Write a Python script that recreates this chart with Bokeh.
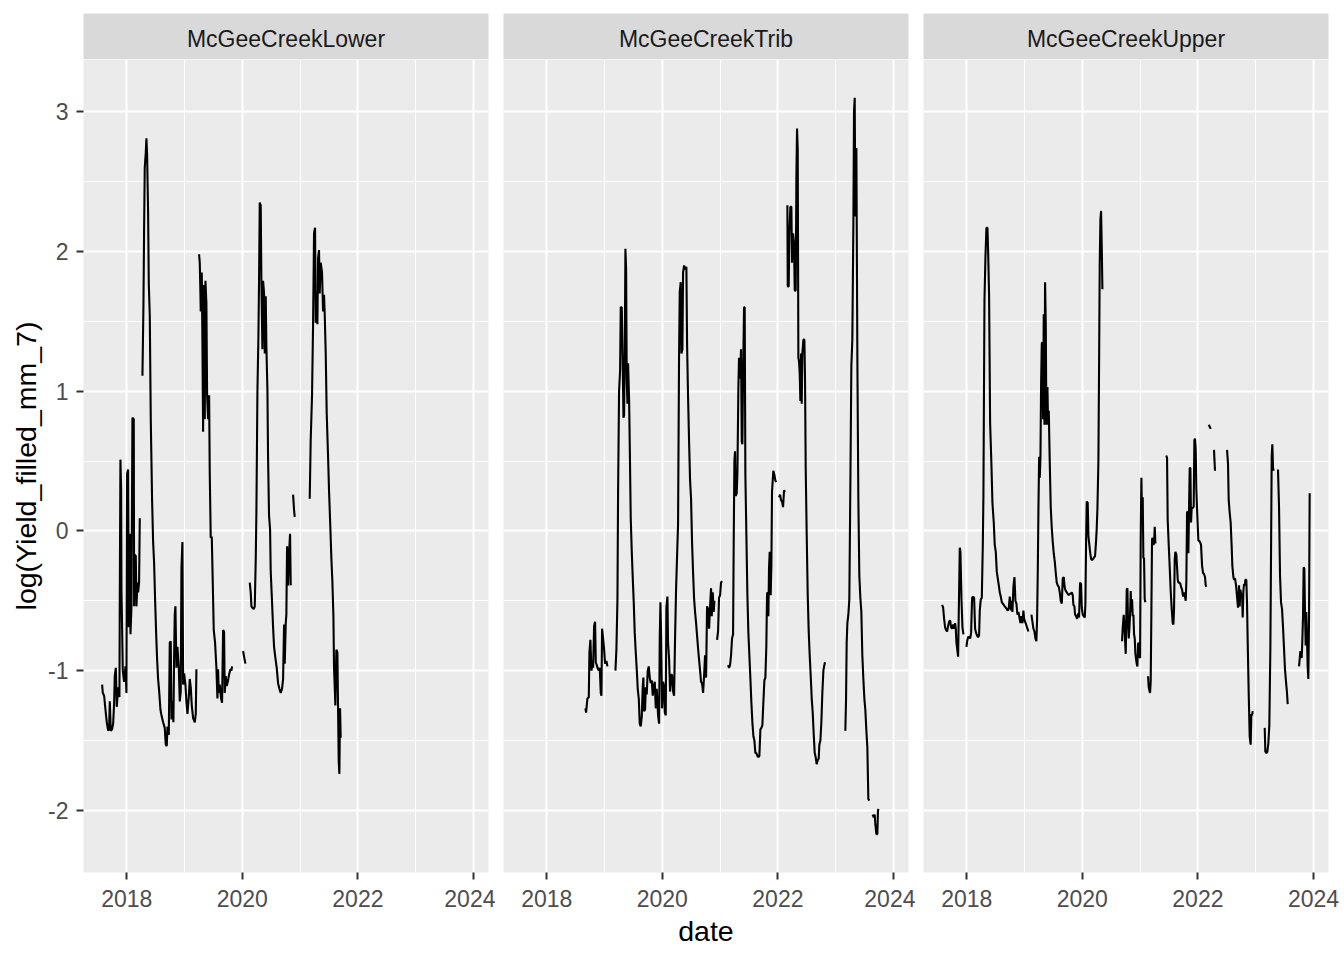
from bokeh.plotting import figure
from bokeh.layouts import row, column
from bokeh.models import FixedTicker, PrintfTickFormatter, Range1d, ColumnDataSource
from bokeh.core.properties import value
from bokeh.embed import file_html
from bokeh.resources import INLINE

NA = float("nan")
GAP = (NA, NA)

sites = ["McGeeCreekLower", "McGeeCreekTrib", "McGeeCreekUpper"]
x_ticks = [2018, 2020, 2022, 2024]
x_minor = [2019, 2021, 2023]
y_ticks = [-2, -1, 0, 1, 2, 3]
y_minor = [-1.5, -0.5, 0.5, 1.5, 2.5]
x_title = "date"
y_title = "log(Yield_filled_mm_7)"

# (decimal year, log yield); GAP = missing data
lower_pts = [
    (2017.573, -1.10), (2017.585, -1.16), (2017.608, -1.18), (2017.631, -1.28), (2017.654, -1.37),
    (2017.677, -1.43), (2017.694, -1.42), (2017.706, -1.22), (2017.723, -1.43), (2017.746, -1.42),
    (2017.764, -1.38), (2017.781, -1.23), (2017.792, -1.04), (2017.810, -0.98), (2017.827, -1.26),
    (2017.850, -1.12), (2017.873, -1.19), (2017.879, -0.49), (2017.890, 0.51), (2017.902, 0.30),
    (2017.908, -0.42), (2017.931, -1.00), (2017.954, -1.08), (2017.977, -0.97), (2017.994, -1.16),
    (2018.006, 0.41), (2018.023, 0.44), (2018.035, -0.69), (2018.052, -0.02), (2018.064, -0.74),
    (2018.081, -0.54), (2018.098, 0.81), (2018.121, 0.80), (2018.127, -0.54), (2018.138, -0.17),
    (2018.156, -0.18), (2018.167, -0.54), (2018.185, -0.37), (2018.196, -0.44), (2018.213, -0.37),
    (2018.225, 0.09),
    GAP,
    (2018.271, 1.11), (2018.288, 1.60), (2018.300, 2.17), (2018.311, 2.60), (2018.329, 2.71),
    (2018.340, 2.81), (2018.352, 2.69), (2018.369, 2.28), (2018.381, 1.77), (2018.398, 1.54),
    (2018.415, 0.80), (2018.438, 0.22), (2018.456, -0.08), (2018.473, -0.23), (2018.490, -0.49),
    (2018.508, -0.73), (2018.525, -0.92), (2018.542, -1.06), (2018.559, -1.14), (2018.583, -1.28),
    (2018.600, -1.32), (2018.629, -1.37), (2018.657, -1.41), (2018.675, -1.53), (2018.692, -1.54),
    (2018.704, -1.40), (2018.727, -1.46), (2018.744, -0.80), (2018.761, -0.79), (2018.773, -1.35),
    (2018.790, -1.22), (2018.807, -1.37), (2018.819, -0.91), (2018.830, -0.60), (2018.842, -0.54),
    (2018.859, -0.98), (2018.877, -0.83), (2018.900, -0.98), (2018.917, -1.22), (2018.934, -1.15),
    (2018.946, -0.27), (2018.963, -0.08), (2018.975, -1.10), (2018.992, -1.02), (2019.015, -1.10),
    (2019.032, -1.22), (2019.050, -1.31), (2019.073, -1.19), (2019.090, -1.06), (2019.107, -1.12),
    (2019.125, -1.25), (2019.148, -1.34), (2019.177, -1.37), (2019.194, -1.31), (2019.205, -0.99),
    GAP,
    (2019.251, 1.98), (2019.263, 1.92), (2019.275, 1.69), (2019.280, 1.57), (2019.298, 1.85),
    (2019.309, 1.36), (2019.321, 0.71), (2019.332, 1.76), (2019.350, 0.80), (2019.361, 1.79),
    (2019.378, 1.63), (2019.390, 0.97), (2019.407, 0.80), (2019.425, 0.97), (2019.436, 0.41),
    (2019.453, -0.05), (2019.471, -0.04), (2019.488, -0.37), (2019.505, -0.71), (2019.528, -0.80),
    (2019.551, -0.98), (2019.569, -1.20), (2019.580, -0.99), (2019.592, -1.16), (2019.609, -1.10),
    (2019.632, -1.20), (2019.649, -1.23), (2019.667, -0.71), (2019.684, -0.72), (2019.695, -1.16),
    (2019.713, -1.04), (2019.730, -1.11), (2019.753, -1.07), (2019.770, -1.03), (2019.794, -0.99),
    (2019.811, -1.00), (2019.822, -0.97),
    GAP,
    (2020.013, -0.86), (2020.030, -0.90), (2020.053, -0.95),
    GAP,
    (2020.128, -0.37), (2020.145, -0.44), (2020.157, -0.54), (2020.174, -0.55), (2020.197, -0.56),
    (2020.215, -0.54), (2020.232, -0.20), (2020.243, 0.13), (2020.261, 1.00), (2020.278, 1.39),
    (2020.290, 1.83), (2020.301, 2.35), (2020.318, 2.33), (2020.330, 1.77), (2020.347, 1.30),
    (2020.359, 1.79), (2020.376, 1.70), (2020.388, 1.27), (2020.405, 1.68), (2020.416, 1.32),
    (2020.434, 1.01), (2020.445, 0.53), (2020.462, 0.11), (2020.480, 0.01), (2020.491, -0.29),
    (2020.514, -0.51), (2020.532, -0.69), (2020.549, -0.83), (2020.572, -0.91), (2020.595, -0.98),
    (2020.618, -1.09), (2020.641, -1.13), (2020.664, -1.16), (2020.687, -1.13), (2020.705, -1.06),
    (2020.722, -0.67), (2020.734, -0.95), (2020.751, -0.66), (2020.762, -0.60), (2020.774, -0.11),
    (2020.791, -0.39), (2020.809, -0.15), (2020.826, -0.02), (2020.837, -0.39),
    GAP,
    (2020.878, 0.26), (2020.895, 0.15), (2020.906, 0.10),
    GAP,
    (2021.166, 0.23), (2021.183, 0.65), (2021.206, 0.97), (2021.224, 1.48), (2021.241, 2.13),
    (2021.258, 2.17), (2021.270, 1.49), (2021.281, 1.71), (2021.299, 1.48), (2021.310, 1.95),
    (2021.327, 2.01), (2021.339, 1.70), (2021.356, 1.92), (2021.379, 1.85), (2021.397, 1.57),
    (2021.414, 1.69), (2021.425, 1.56), (2021.443, 1.27), (2021.460, 0.84), (2021.483, 0.54),
    (2021.501, 0.28), (2021.524, 0.01), (2021.541, -0.20), (2021.558, -0.36), (2021.576, -0.61),
    (2021.587, -0.98), (2021.610, -1.25), (2021.627, -0.85), (2021.645, -0.87), (2021.656, -1.25),
    (2021.668, -1.65), (2021.679, -1.74), (2021.691, -1.27), (2021.702, -1.48),
]

trib_pts = [
    (2018.669, -1.27), (2018.680, -1.30), (2018.703, -1.20), (2018.727, -1.19), (2018.738, -0.87),
    (2018.755, -0.78), (2018.773, -1.00), (2018.790, -0.95), (2018.802, -0.98), (2018.819, -0.68),
    (2018.836, -0.65), (2018.848, -0.94), (2018.865, -0.96), (2018.877, -0.98), (2018.900, -1.00),
    (2018.917, -0.98), (2018.934, -1.16), (2018.946, -1.18), (2018.957, -0.70), (2018.975, -0.77),
    (2018.992, -0.85), (2019.009, -0.95), (2019.032, -0.93), (2019.050, -0.97),
    GAP,
    (2019.188, -1.00), (2019.205, -0.85), (2019.223, -0.49), (2019.234, 0.28), (2019.251, 1.00),
    (2019.269, 1.15), (2019.280, 1.60), (2019.298, 1.60), (2019.315, 1.17), (2019.327, 0.81),
    (2019.338, 0.83), (2019.350, 1.30), (2019.361, 2.02), (2019.373, 1.87), (2019.384, 1.08),
    (2019.396, 0.91), (2019.407, 1.20), (2019.425, 0.93), (2019.436, 0.62), (2019.453, 0.09),
    (2019.471, -0.15), (2019.488, -0.34), (2019.505, -0.51), (2019.522, -0.73), (2019.540, -0.87),
    (2019.557, -0.99), (2019.574, -1.13), (2019.592, -1.20), (2019.609, -1.38), (2019.626, -1.40),
    (2019.644, -1.33), (2019.661, -1.11), (2019.672, -1.05), (2019.684, -1.29), (2019.701, -1.28),
    (2019.713, -1.12), (2019.730, -1.17), (2019.747, -1.00), (2019.765, -0.97), (2019.782, -1.05),
    (2019.799, -1.09), (2019.817, -1.07), (2019.834, -1.18), (2019.851, -1.11), (2019.869, -1.08),
    (2019.886, -1.27), (2019.903, -1.13), (2019.926, -1.32), (2019.944, -1.38), (2019.955, -0.77),
    (2019.967, -0.51), (2019.978, -0.73), (2019.995, -1.27), (2020.013, -1.08), (2020.030, -1.11),
    (2020.042, -1.30), (2020.059, -1.32), (2020.070, -0.55), (2020.088, -0.47), (2020.099, -0.80),
    (2020.117, -0.92), (2020.134, -1.15), (2020.151, -1.03), (2020.168, -1.03), (2020.186, -1.15),
    (2020.203, -1.18), (2020.220, -0.77), (2020.238, -0.41), (2020.255, -0.18), (2020.272, 0.05),
    (2020.289, 1.24), (2020.301, 1.71), (2020.318, 1.78), (2020.330, 1.27), (2020.347, 1.30),
    (2020.359, 1.85), (2020.376, 1.90), (2020.393, 1.87), (2020.416, 1.89), (2020.428, 1.34),
    (2020.445, 0.96), (2020.462, 0.65), (2020.480, 0.36), (2020.497, 0.23), (2020.514, -0.08),
    (2020.532, -0.30), (2020.549, -0.48), (2020.566, -0.58), (2020.584, -0.66), (2020.601, -0.75),
    (2020.618, -0.84), (2020.635, -0.92), (2020.653, -1.00), (2020.670, -1.08), (2020.687, -1.09),
    (2020.705, -1.16), (2020.722, -1.04), (2020.739, -0.89), (2020.757, -1.05), (2020.774, -0.54),
    (2020.791, -0.56), (2020.809, -0.70), (2020.826, -0.54), (2020.843, -0.41), (2020.855, -0.61),
    (2020.872, -0.44), (2020.889, -0.58), (2020.901, -0.50),
    GAP,
    (2020.947, -0.78), (2020.964, -0.72), (2020.981, -0.48), (2020.999, -0.46), (2021.016, -0.37),
    (2021.033, -0.36),
    GAP,
    (2021.137, -0.96), (2021.155, -0.98), (2021.172, -0.96), (2021.189, -0.89), (2021.206, -0.77),
    (2021.224, -0.74), (2021.235, -0.08), (2021.247, 0.50), (2021.258, 0.57), (2021.270, 0.25),
    (2021.287, 0.27), (2021.299, 0.41), (2021.316, 1.03), (2021.327, 1.24), (2021.339, 1.09),
    (2021.351, 1.17), (2021.362, 1.30), (2021.374, 0.64), (2021.385, 0.62), (2021.397, 1.11),
    (2021.414, 1.60), (2021.425, 1.60), (2021.437, 0.40), (2021.454, -0.02), (2021.472, -0.46),
    (2021.489, -0.73), (2021.506, -0.89), (2021.524, -1.06), (2021.541, -1.23), (2021.558, -1.37),
    (2021.576, -1.47), (2021.593, -1.50), (2021.610, -1.59), (2021.627, -1.59), (2021.645, -1.61),
    (2021.662, -1.62), (2021.679, -1.61), (2021.697, -1.42), (2021.714, -1.41), (2021.731, -1.39),
    (2021.749, -1.22), (2021.766, -1.07), (2021.783, -1.05), (2021.800, -0.82), (2021.812, -0.45),
    (2021.823, -0.44), (2021.835, -0.61), (2021.846, -0.27), (2021.858, -0.15), (2021.875, -0.46),
    (2021.887, -0.24), (2021.898, 0.28), (2021.910, 0.36), (2021.921, 0.43), (2021.939, 0.40),
    (2021.956, 0.36), (2021.973, 0.35),
    GAP,
    (2022.020, 0.24), (2022.037, 0.26), (2022.054, 0.22), (2022.072, 0.21), (2022.089, 0.17),
    (2022.106, 0.29), (2022.124, 0.28),
    GAP,
    (2022.164, 2.33), (2022.170, 1.75), (2022.187, 1.75), (2022.198, 2.13), (2022.216, 2.32),
    (2022.233, 2.32), (2022.244, 1.92), (2022.262, 2.13), (2022.279, 2.06), (2022.291, 1.72),
    (2022.308, 1.72), (2022.320, 2.54), (2022.331, 2.88), (2022.343, 2.73), (2022.354, 1.24),
    (2022.366, 1.21), (2022.377, 1.13), (2022.389, 0.93), (2022.400, 1.27), (2022.412, 0.91),
    (2022.423, 1.27), (2022.441, 1.37), (2022.458, 1.37), (2022.469, 1.10), (2022.481, 0.45),
    (2022.498, -0.02), (2022.516, -0.46), (2022.533, -0.72), (2022.550, -0.89), (2022.568, -1.04),
    (2022.585, -1.20), (2022.602, -1.30), (2022.619, -1.45), (2022.637, -1.59), (2022.654, -1.62),
    (2022.671, -1.67), (2022.689, -1.64), (2022.706, -1.63), (2022.717, -1.53), (2022.735, -1.50),
    (2022.752, -1.37), (2022.769, -1.16), (2022.787, -1.00), (2022.804, -0.96), (2022.815, -0.94),
    GAP,
    (2023.167, -1.43), (2023.179, -1.21), (2023.190, -0.80), (2023.202, -0.66), (2023.219, -0.60),
    (2023.236, -0.49), (2023.254, 0.34), (2023.271, 1.18), (2023.288, 1.37), (2023.306, 2.20),
    (2023.317, 3.00), (2023.329, 3.10), (2023.340, 2.25), (2023.358, 2.74), (2023.375, 1.24),
    (2023.392, 0.23), (2023.409, -0.32), (2023.427, -0.48), (2023.444, -0.58), (2023.461, -0.89),
    (2023.479, -1.06), (2023.496, -1.20), (2023.513, -1.28), (2023.531, -1.43), (2023.548, -1.55),
    (2023.565, -1.92), (2023.583, -1.93),
    GAP,
    (2023.640, -2.03), (2023.658, -2.05), (2023.675, -2.03), (2023.686, -2.10), (2023.704, -2.17),
    (2023.721, -2.17), (2023.732, -2.00), (2023.744, -1.99),
]

upper_pts = [
    (2017.573, -0.53), (2017.591, -0.55), (2017.608, -0.63), (2017.625, -0.69), (2017.642, -0.71),
    (2017.660, -0.72), (2017.677, -0.68), (2017.694, -0.65), (2017.712, -0.64), (2017.729, -0.69),
    (2017.746, -0.70), (2017.764, -0.67), (2017.781, -0.70), (2017.798, -0.66), (2017.810, -0.70),
    (2017.821, -0.80), (2017.833, -0.84), (2017.850, -0.90), (2017.862, -0.57), (2017.879, -0.12),
    (2017.890, -0.15), (2017.908, -0.49), (2017.925, -0.69), (2017.942, -0.74),
    GAP,
    (2017.994, -0.83), (2018.006, -0.79), (2018.023, -0.76), (2018.040, -0.76), (2018.058, -0.77),
    (2018.075, -0.73), (2018.092, -0.48), (2018.110, -0.47), (2018.127, -0.48), (2018.144, -0.70),
    (2018.162, -0.73), (2018.179, -0.75), (2018.196, -0.76), (2018.213, -0.75), (2018.225, -0.57),
    (2018.242, -0.49), (2018.260, -0.48), (2018.277, -0.11), (2018.288, 0.25), (2018.306, 1.65),
    (2018.323, 1.96), (2018.340, 2.17), (2018.358, 2.17), (2018.369, 2.01), (2018.386, 1.69),
    (2018.404, 0.77), (2018.427, 0.47), (2018.444, 0.20), (2018.467, 0.06), (2018.484, -0.10),
    (2018.502, -0.15), (2018.519, -0.29), (2018.536, -0.34), (2018.554, -0.39), (2018.571, -0.44),
    (2018.588, -0.47), (2018.606, -0.51), (2018.623, -0.52), (2018.640, -0.53), (2018.657, -0.54),
    (2018.675, -0.55), (2018.692, -0.56), (2018.709, -0.57), (2018.727, -0.55), (2018.744, -0.47),
    (2018.761, -0.57), (2018.773, -0.50), (2018.790, -0.58), (2018.807, -0.40), (2018.825, -0.33),
    (2018.842, -0.50), (2018.859, -0.52), (2018.877, -0.60), (2018.894, -0.58), (2018.911, -0.62),
    (2018.929, -0.66), (2018.946, -0.61), (2018.963, -0.66), (2018.980, -0.57), (2018.992, -0.63),
    (2019.009, -0.65), (2019.027, -0.67), (2019.050, -0.70), (2019.067, -0.72),
    GAP,
    (2019.119, -0.60), (2019.136, -0.65), (2019.153, -0.70), (2019.171, -0.72), (2019.188, -0.77),
    (2019.205, -0.79), (2019.217, -0.63), (2019.229, -0.28), (2019.240, 0.15), (2019.252, 0.53),
    (2019.263, 0.38), (2019.275, 0.53), (2019.286, 1.04), (2019.298, 1.34), (2019.309, 1.35),
    (2019.321, 0.80), (2019.332, 1.55), (2019.344, 0.76), (2019.355, 1.78), (2019.367, 1.48),
    (2019.378, 0.76), (2019.396, 1.03), (2019.407, 0.76), (2019.419, 0.86), (2019.436, 0.49),
    (2019.453, 0.17), (2019.471, 0.02), (2019.488, -0.08), (2019.505, -0.16), (2019.523, -0.22),
    (2019.540, -0.30), (2019.557, -0.37), (2019.574, -0.39), (2019.592, -0.40), (2019.609, -0.44),
    (2019.626, -0.50), (2019.644, -0.52), (2019.661, -0.34), (2019.678, -0.33), (2019.696, -0.41),
    (2019.713, -0.43), (2019.730, -0.44), (2019.747, -0.45), (2019.765, -0.46), (2019.782, -0.45),
    (2019.799, -0.45), (2019.817, -0.44), (2019.834, -0.46), (2019.845, -0.53), (2019.863, -0.54),
    (2019.874, -0.60), (2019.892, -0.61), (2019.909, -0.63), (2019.926, -0.59), (2019.943, -0.62),
    (2019.961, -0.37), (2019.978, -0.38), (2019.990, -0.55), (2020.007, -0.60), (2020.024, -0.61),
    (2020.042, -0.62), (2020.053, -0.52), (2020.065, -0.07), (2020.076, 0.21), (2020.093, 0.20),
    (2020.105, -0.04), (2020.116, -0.08), (2020.134, -0.15), (2020.151, -0.20), (2020.168, -0.21),
    (2020.186, -0.20), (2020.203, -0.19), (2020.220, -0.18), (2020.238, -0.07), (2020.249, 0.02),
    (2020.261, 0.16), (2020.278, 0.50), (2020.290, 1.21), (2020.301, 1.92), (2020.313, 2.23),
    (2020.324, 2.29), (2020.336, 2.03), (2020.347, 1.73),
    GAP,
    (2020.687, -0.79), (2020.699, -0.69), (2020.716, -0.60), (2020.728, -0.68), (2020.739, -0.78),
    (2020.751, -0.88), (2020.768, -0.42), (2020.780, -0.41), (2020.791, -0.66), (2020.803, -0.77),
    (2020.814, -0.70), (2020.826, -0.60), (2020.837, -0.43), (2020.849, -0.58), (2020.860, -0.49),
    (2020.872, -0.61), (2020.884, -0.60), (2020.895, -0.74), (2020.907, -0.77), (2020.918, -0.88),
    (2020.930, -0.92), (2020.941, -0.95), (2020.953, -0.97), (2020.964, -0.81), (2020.976, -0.80),
    (2020.987, -0.90), (2020.999, -0.91), (2021.010, -0.06), (2021.022, 0.38), (2021.033, 0.10),
    (2021.045, 0.24), (2021.056, -0.19), (2021.068, -0.20), (2021.079, -0.49), (2021.091, -0.51),
    GAP,
    (2021.137, -1.04), (2021.149, -1.12), (2021.160, -1.14), (2021.172, -1.16), (2021.183, -1.08),
    (2021.195, -0.57), (2021.206, -0.06), (2021.218, -0.05), (2021.229, -0.10), (2021.241, -0.09),
    (2021.253, 0.03), (2021.264, -0.09),
    GAP,
    (2021.454, 0.54), (2021.466, 0.52), (2021.477, 0.08), (2021.495, -0.10), (2021.512, -0.26),
    (2021.529, -0.43), (2021.547, -0.56), (2021.564, -0.66), (2021.576, -0.67), (2021.587, -0.56),
    (2021.599, -0.20), (2021.610, -0.15), (2021.627, -0.17), (2021.639, -0.26), (2021.651, -0.35),
    (2021.662, -0.37), (2021.679, -0.37), (2021.697, -0.38), (2021.708, -0.40), (2021.726, -0.42),
    (2021.743, -0.47), (2021.760, -0.44), (2021.772, -0.46), (2021.789, -0.50), (2021.800, -0.36),
    (2021.812, 0.13), (2021.824, 0.14), (2021.835, -0.16), (2021.847, 0.17), (2021.858, 0.45),
    (2021.870, 0.45), (2021.881, 0.06), (2021.893, 0.17), (2021.904, 0.16), (2021.916, 0.17),
    (2021.927, 0.17), (2021.939, 0.65), (2021.950, 0.66), (2021.962, 0.58), (2021.973, 0.30),
    (2021.985, 0.16), (2021.997, 0.04), (2022.008, -0.07), (2022.020, -0.07), (2022.037, -0.08),
    (2022.054, -0.10), (2022.072, -0.25), (2022.089, -0.30), (2022.106, -0.31), (2022.123, -0.33),
    (2022.135, -0.39), (2022.146, -0.40),
    GAP,
    (2022.187, 0.76), (2022.210, 0.74), (2022.222, 0.73),
    GAP,
    (2022.279, 0.58), (2022.285, 0.52), (2022.296, 0.43),
    GAP,
    (2022.504, 0.58), (2022.521, 0.48), (2022.533, 0.22), (2022.550, 0.13), (2022.567, 0.06),
    (2022.585, -0.12), (2022.596, -0.25), (2022.614, -0.33), (2022.625, -0.35), (2022.642, -0.34),
    (2022.660, -0.39), (2022.677, -0.47), (2022.694, -0.55), (2022.712, -0.39), (2022.723, -0.54),
    (2022.735, -0.42), (2022.746, -0.45), (2022.764, -0.45), (2022.775, -0.62), (2022.787, -0.43),
    (2022.798, -0.38), (2022.810, -0.39), (2022.821, -0.35), (2022.838, -0.35), (2022.850, -0.52),
    (2022.862, -0.80), (2022.879, -1.16), (2022.896, -1.47), (2022.913, -1.53), (2022.925, -1.31),
    (2022.937, -1.32), (2022.948, -1.29),
    GAP,
    (2023.156, -1.41), (2023.167, -1.58), (2023.185, -1.59), (2023.202, -1.58), (2023.219, -1.52),
    (2023.236, -1.39), (2023.254, -0.84), (2023.265, -0.19), (2023.277, 0.53), (2023.288, 0.62),
    (2023.300, 0.45), (2023.312, 0.43),
    GAP,
    (2023.386, 0.44), (2023.404, 0.17), (2023.421, -0.32), (2023.438, -0.51), (2023.456, -0.56),
    (2023.473, -0.69), (2023.490, -0.84), (2023.507, -0.99), (2023.525, -1.08), (2023.542, -1.16),
    (2023.554, -1.24),
    GAP,
    (2023.750, -0.97), (2023.761, -0.92), (2023.773, -0.86), (2023.784, -0.88), (2023.796, -0.91),
    (2023.807, -0.79), (2023.819, -0.61), (2023.830, -0.26), (2023.842, -0.27), (2023.853, -0.58),
    (2023.865, -0.82), (2023.876, -0.58), (2023.888, -0.76), (2023.899, -0.97), (2023.911, -1.06),
    (2023.923, -0.63), (2023.934, 0.27),
]

series = [lower_pts, trib_pts, upper_pts]

FONT = "Liberation Sans"
X_RANGE = (2017.251, 2024.26)
Y_RANGE = (-2.445, 3.374)
FRAME_W = 405
FRAME_H = 813
STRIP_H = 46
LEFTS = [83, 8, 8]
RIGHTS = [7, 7, 13]
TOP = 13
BOTTOM = 79


def style_x_axis(p):
    ax = p.xaxis[0]
    ax.ticker = FixedTicker(ticks=x_ticks, minor_ticks=x_minor)
    ax.formatter = PrintfTickFormatter(format="%d")
    ax.axis_line_color = None
    ax.minor_tick_line_color = None
    ax.major_tick_in = 0
    ax.major_tick_out = 7
    ax.major_tick_line_width = 2
    ax.major_tick_line_color = "#333333"
    ax.major_label_text_font = FONT
    ax.major_label_text_font_size = "23px"
    ax.major_label_text_color = "#4d4d4d"
    ax.major_label_standoff = 10


strips = []
panels = []
for i, (site, pts) in enumerate(zip(sites, series)):
    s = figure(width=LEFTS[i] + FRAME_W + RIGHTS[i], height=TOP + STRIP_H,
               x_range=Range1d(0, 1), y_range=Range1d(0, 1),
               x_axis_location=None, y_axis_location=None,
               min_border_left=LEFTS[i], min_border_right=RIGHTS[i],
               min_border_top=TOP, min_border_bottom=0,
               background_fill_color="#d9d9d9", border_fill_color="white",
               outline_line_color=None, toolbar_location=None, tools="",
               output_backend="svg")
    s.xgrid.grid_line_color = None
    s.ygrid.grid_line_color = None
    s.text(x=[0.5], y=[0.45], text=[site], text_align="center",
           text_baseline="alphabetic", text_font=value(FONT),
           text_font_size=value("23px"), text_color="#1a1a1a")
    strips.append(s)

    p = figure(width=LEFTS[i] + FRAME_W + RIGHTS[i], height=FRAME_H + BOTTOM,
               x_range=Range1d(*X_RANGE), y_range=Range1d(*Y_RANGE),
               y_axis_location="left" if i == 0 else None,
               min_border_left=LEFTS[i], min_border_right=RIGHTS[i],
               min_border_top=0, min_border_bottom=BOTTOM,
               background_fill_color="#ebebeb", border_fill_color="white",
               outline_line_color=None, toolbar_location=None, tools="",
               output_backend="svg")
    style_x_axis(p)
    for g in p.xgrid:
        g.ticker = FixedTicker(ticks=x_ticks, minor_ticks=x_minor)
    for g in p.ygrid:
        g.ticker = FixedTicker(ticks=y_ticks, minor_ticks=y_minor)
    p.grid.grid_line_color = "white"
    p.grid.grid_line_width = 2
    p.grid.minor_grid_line_color = "white"
    p.grid.minor_grid_line_width = 1

    if i == 0:
        ay = p.yaxis[0]
        ay.ticker = FixedTicker(ticks=y_ticks, minor_ticks=y_minor)
        ay.formatter = PrintfTickFormatter(format="%d")
        ay.axis_line_color = None
        ay.minor_tick_line_color = None
        ay.major_tick_in = 0
        ay.major_tick_out = 7
        ay.major_tick_line_width = 2
        ay.major_tick_line_color = "#333333"
        ay.major_label_text_font = FONT
        ay.major_label_text_font_size = "23px"
        ay.major_label_text_color = "#4d4d4d"
        ay.major_label_standoff = 8
        ay.axis_label = y_title
        ay.axis_label_text_font = FONT
        ay.axis_label_text_font_size = "28.5px"
        ay.axis_label_text_font_style = "normal"
        ay.axis_label_text_color = "black"
        ay.axis_label_standoff = 3
    if i == 1:
        ax = p.xaxis[0]
        ax.axis_label = x_title
        ax.axis_label_text_font = FONT
        ax.axis_label_text_font_size = "28.5px"
        ax.axis_label_text_font_style = "normal"
        ax.axis_label_text_color = "black"
        ax.axis_label_standoff = 5

    t_vals = [a for a, b in pts]
    v_vals = [b for a, b in pts]
    src = ColumnDataSource(dict(t=t_vals, v=v_vals))
    p.line("t", "v", source=src, line_color="black", line_width=2.1)
    panels.append(p)

layout = column(row(*strips), row(*panels))
open("out.html", "w").write(file_html(layout, INLINE))
